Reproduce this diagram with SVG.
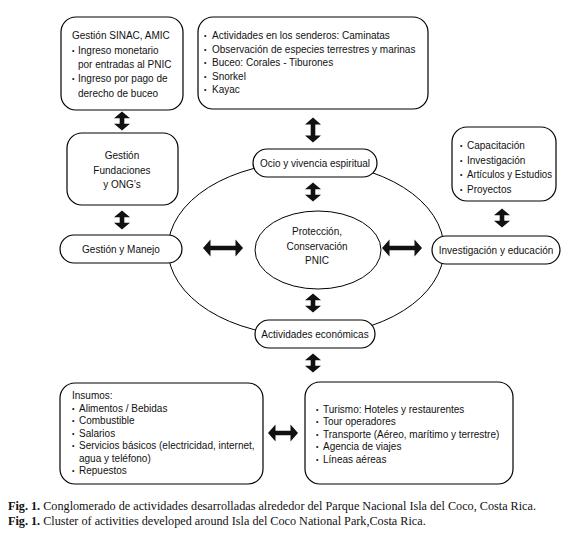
<svg xmlns="http://www.w3.org/2000/svg" width="572" height="559" viewBox="0 0 572 559">
<style>
.box{fill:#fff;stroke:#000;stroke-width:1.2}
.ring{fill:none;stroke:#000;stroke-width:1}
.t{font-family:"Liberation Sans",Arial,sans-serif;font-size:10px;fill:#111}
.c{text-anchor:middle}
.b{font-family:"Liberation Sans",Arial,sans-serif;font-size:7px;fill:#111}
.cap{font-family:"Liberation Serif","Times New Roman",serif;font-size:12.2px;fill:#111}
.arr{fill:#111}
</style>
<defs>
<path id="vs" d="M0,-9.5 L8,-2.8 L2.3,-2.8 L2.3,2.8 L8,2.8 L0,9.5 L-8,2.8 L-2.3,2.8 L-2.3,-2.8 L-8,-2.8 Z"/>
<path id="vl" d="M0,-12.5 L8,-5.5 L2.3,-5.5 L2.3,5.5 L8,5.5 L0,12.5 L-8,5.5 L-2.3,5.5 L-2.3,-5.5 L-8,-5.5 Z"/>
<path id="hl" d="M-20,0 L-12.5,-8.5 L-12.5,-2.3 L12.5,-2.3 L12.5,-8.5 L20,0 L12.5,8.5 L12.5,2.3 L-12.5,2.3 L-12.5,8.5 Z"/>
<path id="hs" d="M-15,0 L-7.5,-8.5 L-7.5,-2.3 L7.5,-2.3 L7.5,-8.5 L15,0 L7.5,8.5 L7.5,2.3 L-7.5,2.3 L-7.5,8.5 Z"/>
</defs>

<g id="rings">
<ellipse class="ring" cx="306" cy="249" rx="138" ry="87"/>
</g>

<g id="connectors" class="arr">
<use href="#vs" x="122" y="121"/>
<use href="#vs" x="122" y="220"/>
<use href="#vl" x="313" y="130"/>
<use href="#vs" x="313" y="192"/>
<use href="#vs" x="313" y="303"/>
<use href="#vs" x="313" y="363"/>
<use href="#vs" x="502" y="218"/>
<use href="#hl" x="223" y="248"/>
<use href="#hl" x="402" y="248"/>
<use href="#hs" x="283" y="433"/>
</g>

<g id="sinac">
<rect class="box" x="61" y="17" width="122" height="93" rx="15"/>
<text class="t" x="72" y="39">Gestión SINAC, AMIC</text>
<text class="b" x="72" y="53">•</text><text class="t" x="78" y="54">Ingreso monetario</text>
<text class="t" x="78" y="68">por entradas al PNIC</text>
<text class="b" x="72" y="81">•</text><text class="t" x="78" y="82">Ingreso por pago de</text>
<text class="t" x="78" y="97">derecho de buceo</text>
</g>

<g id="actividades">
<rect class="box" x="198" y="17" width="230" height="92" rx="15"/>
<text class="b" x="204" y="38">•</text><text class="t" x="212" y="39">Actividades en los senderos: Caminatas</text>
<text class="b" x="204" y="51.5">•</text><text class="t" x="212" y="52.5">Observación de especies terrestres y marinas</text>
<text class="b" x="204" y="65">•</text><text class="t" x="212" y="66">Buceo: Corales - Tiburones</text>
<text class="b" x="204" y="78.5">•</text><text class="t" x="212" y="79.5">Snorkel</text>
<text class="b" x="204" y="92">•</text><text class="t" x="212" y="93">Kayac</text>
</g>

<g id="investigacion-box">
<rect class="box" x="452" y="127" width="104" height="74" rx="15"/>
<text class="b" x="460" y="148">•</text><text class="t" x="467" y="149">Capacitación</text>
<text class="b" x="460" y="162.5">•</text><text class="t" x="467" y="163.5">Investigación</text>
<text class="b" x="460" y="177">•</text><text class="t" x="467" y="178" textLength="85" lengthAdjust="spacingAndGlyphs">Artículos y Estudios</text>
<text class="b" x="460" y="191.5">•</text><text class="t" x="467" y="192.5">Proyectos</text>
</g>

<g id="fundaciones">
<rect class="box" x="67" y="133" width="111" height="72" rx="15"/>
<text class="t c" x="122" y="159">Gestión</text>
<text class="t c" x="122" y="173.5">Fundaciones</text>
<text class="t c" x="122" y="188">y ONG’s</text>
</g>

<g id="gestion-manejo">
<rect class="box" x="60" y="235" width="122" height="28" rx="14"/>
<text class="t c" x="121" y="253">Gestión y Manejo</text>
</g>

<g id="ocio">
<rect class="box" x="253" y="149" width="124" height="28" rx="14"/>
<text class="t c" x="315" y="167">Ocio y vivencia espiritual</text>
</g>

<g id="proteccion">
<ellipse class="box" cx="318" cy="250" rx="63" ry="39" style="stroke-width:1"/>
<text class="t c" x="317" y="235">Protección,</text>
<text class="t c" x="317" y="250">Conservación</text>
<text class="t c" x="317" y="264">PNIC</text>
</g>

<g id="investigacion">
<rect class="box" x="432" y="236" width="128" height="28" rx="14"/>
<text class="t c" x="496" y="254">Investigación y educación</text>
</g>

<g id="economicas">
<rect class="box" x="255" y="320" width="120" height="28" rx="14"/>
<text class="t c" x="315" y="338">Actividades económicas</text>
</g>

<g id="insumos">
<rect class="box" x="60" y="383" width="203" height="101" rx="15"/>
<text class="t" x="72" y="399">Insumos:</text>
<text class="b" x="72" y="410.5">•</text><text class="t" x="79" y="411.5">Alimentos / Bebidas</text>
<text class="b" x="72" y="423">•</text><text class="t" x="79" y="424">Combustible</text>
<text class="b" x="72" y="435.5">•</text><text class="t" x="79" y="436.5">Salarios</text>
<text class="b" x="72" y="448">•</text><text class="t" x="79" y="449">Servicios básicos (electricidad, internet,</text>
<text class="t" x="79" y="461.5">agua y teléfono)</text>
<text class="b" x="72" y="473">•</text><text class="t" x="79" y="474">Repuestos</text>
</g>

<g id="turismo">
<rect class="box" x="305" y="382" width="208" height="102" rx="15"/>
<text class="b" x="316" y="411.5">•</text><text class="t" x="323" y="412.5">Turismo: Hoteles y restaurentes</text>
<text class="b" x="316" y="424">•</text><text class="t" x="323" y="425">Tour operadores</text>
<text class="b" x="316" y="436.5">•</text><text class="t" x="323" y="437.5">Transporte (Aéreo, marítimo y terrestre)</text>
<text class="b" x="316" y="449">•</text><text class="t" x="323" y="450">Agencia de viajes</text>
<text class="b" x="316" y="461.5">•</text><text class="t" x="323" y="462.5">Líneas aéreas</text>
</g>

<g id="caption">
<text class="cap" x="8" y="510"><tspan font-weight="bold">Fig. 1.</tspan> Conglomerado de actividades desarrolladas alrededor del Parque Nacional Isla del Coco, Costa Rica.</text>
<text class="cap" x="8" y="525"><tspan font-weight="bold">Fig. 1.</tspan> Cluster of activities developed around Isla del Coco National Park,Costa Rica.</text>
</g>
</svg>
